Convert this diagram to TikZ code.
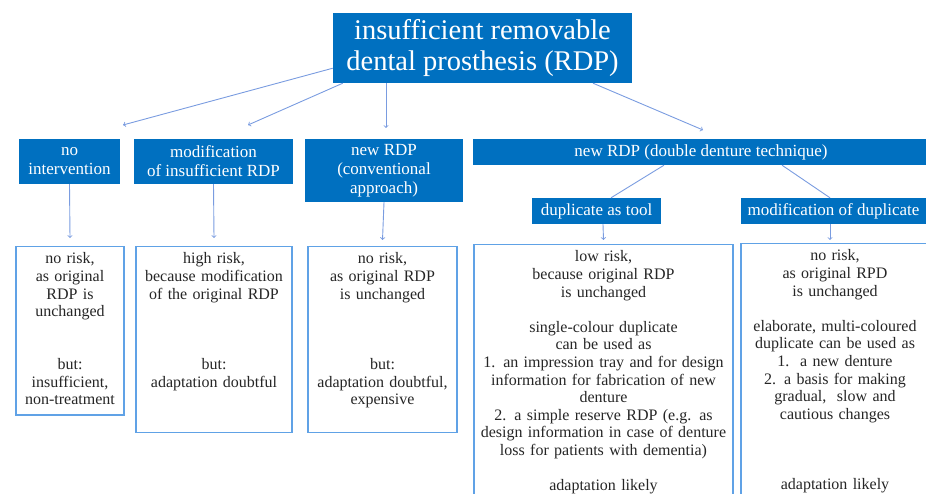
\documentclass[tikz,border=0pt]{standalone}
\usepackage{fontspec}
\setmainfont{Liberation Serif}
\definecolor{boxblue}{RGB}{0,112,192}
\definecolor{linkblue}{RGB}{122,156,224}
\definecolor{rimblue}{RGB}{96,162,230}
\begin{document}
\begin{tikzpicture}[x=1pt, y=-1pt,
    headbox/.style={fill=boxblue, text=white, align=center, inner sep=0pt, font=\fontsize{17}{19}\selectfont},
    infobox/.style={draw=rimblue, line width=1.2pt, fill=white, text=black!85, align=center, anchor=north,
        inner xsep=3pt, inner ysep=5pt, font=\fontsize{16}{17.6}\selectfont,
        execute at begin node=\strut, execute at end node=\strut},
    link/.style={->, draw=linkblue, line width=0.9pt},
    branch/.style={draw=linkblue, line width=0.9pt}]
    \useasboundingbox (0,0) rectangle (926,494);

    % top of the tree
    \node[headbox, font=\fontsize{28.5}{31}\selectfont, minimum width=299pt, minimum height=70pt] (rdp) at (482.5,48) {insufficient removable\\dental prosthesis (RDP)};

    % options
    \node[headbox, minimum width=101pt, minimum height=45pt] (noint) at (69.5,161.5) {no\\intervention};
    \node[headbox, minimum width=159pt, minimum height=45pt] (modif) at (213.5,161.5) {modification\\of insufficient RDP};
    \node[headbox, minimum width=158pt, minimum height=63pt] (conv) at (384,170.5) {new RDP\\(conventional\\approach)};
    \node[headbox, minimum width=456pt, minimum height=26pt] (double) at (701,152) {new RDP (double denture technique)};
    \node[headbox, minimum width=129pt, minimum height=26pt] (tool) at (596.5,211) {duplicate as tool};
    \node[headbox, minimum width=185pt, minimum height=26pt] (moddup) at (833.5,211) {modification of duplicate};

    % assessments
    \node[infobox, text width=102pt] (risk1) at (70,246) {no risk,\\as original\\RDP is\\unchanged\\~\\~\\but:\\insufficient,\\non-treatment};
    \node[infobox, text width=150pt] (risk2) at (214,246) {high risk,\\because modification\\of the original RDP\\~\\~\\~\\but:\\adaptation doubtful\\~\\~};
    \node[infobox, text width=143pt] (risk3) at (382.5,246) {no risk,\\as original RDP\\is unchanged\\~\\~\\~\\but:\\adaptation doubtful,\\expensive\\~};
    \node[infobox, text width=253pt] (risk4) at (603.5,244) {low risk,\\because original RDP\\is unchanged\\~\\single-colour duplicate\\can be used as\\1. an impression tray and for design\\information for fabrication of new\\denture\\2. a simple reserve RDP (e.g. as\\design information in case of denture\\loss for patients with dementia)\\~\\adaptation likely};
    \node[infobox, text width=182pt] (risk5) at (835,243) {no risk,\\as original RPD\\is unchanged\\~\\elaborate, multi-coloured\\duplicate can be used as\\1.\ \ a new denture\\2. a basis for making\\gradual,\ \ slow and\\cautious changes\\~\\~\\~\\adaptation likely};

    % connectors
    \coordinate (e1) at (123,125);
    \coordinate (e2) at (248,125);
    \coordinate (e3) at (386,128);
    \coordinate (e4) at (703,130);
    \draw[link] ([yshift=15pt]rdp.south west) -- (e1);
    \draw[link] ([xshift=10pt]rdp.south west) -- (e2);
    \draw[link] ([xshift=-96.5pt]rdp.south) -- (e3);
    \draw[link] ([xshift=110.5pt]rdp.south) -- (e4);
    \draw[link] (noint.south) -- ([yshift=8pt]risk1.north);
    \draw[link] (modif.south) -- ([yshift=8pt]risk2.north);
    \draw[link] (conv.south) -- ([yshift=6pt]risk3.north);
    \draw[branch] ([xshift=-37pt]double.south) -- ([xshift=14.5pt]tool.north);
    \draw[branch] ([xshift=81pt]double.south) -- ([xshift=-3.5pt]moddup.north);
    \draw[link] ([xshift=6.5pt]tool.south) -- ([yshift=4pt]risk4.north);
    \draw[link] ([xshift=-3.5pt]moddup.south) -- ([xshift=-5pt, yshift=3pt]risk5.north);
\end{tikzpicture}
\end{document}
